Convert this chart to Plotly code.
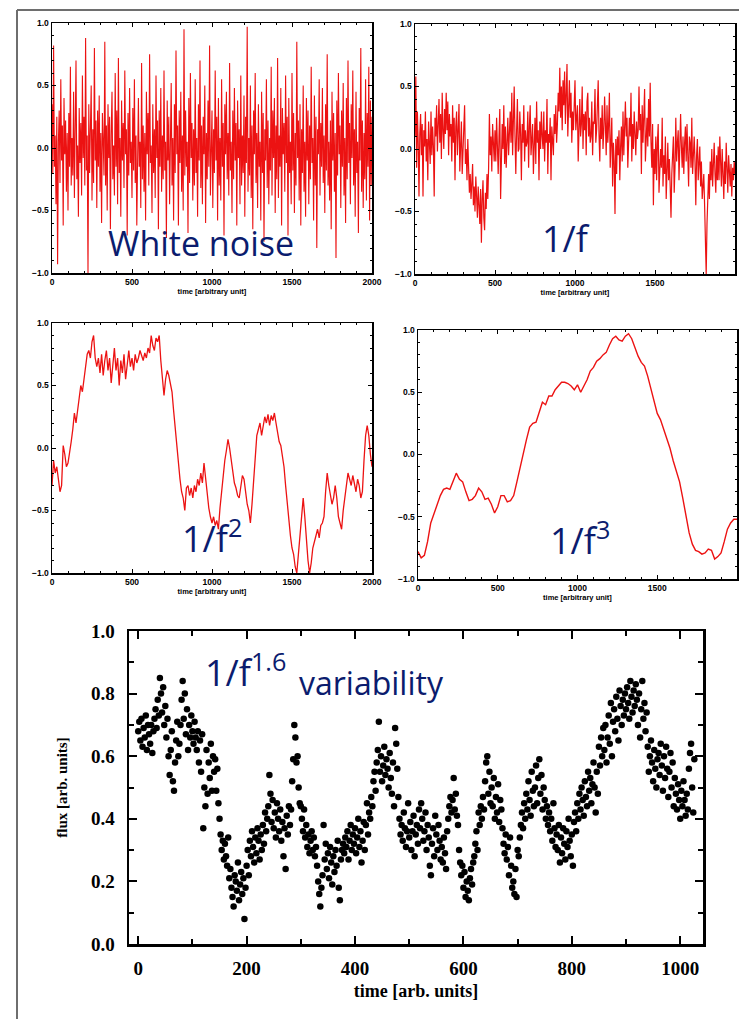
import plotly.graph_objects as go

W, H = 739, 1019

# ---------------- data ----------------
white_noise = [
    0.35,-0.20,0.82,-0.15,0.10,-0.45,0.25,-0.93,0.05,0.30,-0.28,0.55,-0.10,0.18,-0.62,0.40,-0.05,0.22,-0.35,0.12,
    -0.50,0.28,-0.15,0.65,-0.30,0.08,-0.22,0.45,-0.40,0.15,0.70,-0.25,0.02,-0.55,0.32,-0.12,0.20,-0.38,0.58,-0.08,
    0.25,-0.30,0.88,-0.18,0.10,-1.00,0.35,-0.20,0.05,0.50,-0.42,0.15,-0.28,0.80,-0.10,0.22,-0.48,0.30,-0.15,0.42,
    -0.35,0.12,-0.60,0.28,0.05,-0.22,0.85,-0.30,0.18,-0.50,0.35,-0.08,0.25,-0.65,0.10,0.45,-0.25,0.02,-0.38,0.60,
    -0.15,0.30,-0.45,0.72,-0.20,0.08,-0.55,0.38,-0.10,0.20,-0.32,0.62,-0.05,0.15,-0.70,0.28,-0.22,0.48,-0.12,0.05,
    -0.40,0.32,-0.18,0.55,-0.28,0.10,-0.62,0.22,0.40,-0.15,0.05,-0.48,0.68,-0.25,0.18,-0.35,0.12,-0.58,0.45,-0.05,
    0.28,-0.30,0.75,-0.12,0.02,-0.52,0.35,-0.20,0.15,-0.40,0.58,-0.08,0.22,-0.65,0.30,-0.15,0.48,-0.35,0.10,-0.25,
    0.62,-0.18,0.05,-0.72,0.38,-0.10,0.25,-0.45,0.15,0.52,-0.30,0.08,-0.58,0.35,-0.20,0.78,-0.05,0.18,-0.62,0.30,
    -0.12,0.45,-0.35,0.10,-0.50,0.95,-0.22,0.30,-0.15,0.05,-0.68,0.40,-0.28,0.60,-0.08,0.20,-0.42,0.15,-0.30,0.55,
    -0.20,0.08,-0.55,0.35,-0.10,0.70,-0.32,0.18,-0.45,0.25,-0.05,0.50,-0.60,0.12,-0.25,0.38,-0.15,0.82,-0.38,0.05,
    0.30,-0.48,0.15,-0.20,0.62,-0.10,0.25,-0.58,0.40,-0.30,0.08,-0.42,0.55,-0.15,0.20,-0.70,0.35,-0.05,0.45,-0.25,
    0.12,-0.38,0.68,-0.18,0.05,-0.52,0.30,-0.25,0.48,-0.10,0.20,-0.62,0.38,-0.08,0.15,-0.45,0.58,-0.30,0.10,-0.20,
    0.42,-0.55,0.25,-0.12,0.97,-0.35,0.08,-0.22,0.50,-0.40,0.18,-0.65,0.30,-0.05,0.60,-0.28,0.12,-0.48,0.35,-0.15,
    0.05,-0.58,0.45,-0.20,0.28,-0.75,0.15,-0.10,0.55,-0.32,0.22,-0.45,0.08,-0.18,0.65,-0.38,0.30,-0.08,0.40,-0.52,
    0.18,-0.25,0.72,-0.40,0.10,-0.15,0.48,-0.62,0.32,-0.05,0.20,-0.35,0.58,-0.12,0.25,-0.70,0.40,-0.20,0.05,-0.45,
    0.60,-0.18,0.28,-0.52,0.12,-0.30,0.85,-0.08,0.22,-0.42,0.35,-0.62,0.15,-0.20,0.50,-0.35,0.05,-0.55,0.40,-0.10,
    0.30,-0.45,0.18,-0.25,0.65,-0.12,0.08,-0.58,0.42,-0.30,0.25,-0.80,0.15,-0.05,0.55,-0.38,0.20,-0.15,0.48,-0.28,
    0.10,-0.52,0.35,-0.18,0.75,-0.30,0.05,-0.42,0.22,-0.65,0.45,-0.10,0.28,-0.35,0.12,-0.88,0.38,-0.22,0.60,-0.05,
    0.18,-0.48,0.30,-0.15,0.52,-0.38,0.08,-0.60,0.40,-0.25,0.70,-0.12,0.20,-0.45,0.35,-0.08,0.62,-0.30,0.15,-0.55,
    0.45,-0.20,0.05,-0.68,0.32,-0.10,0.80,-0.35,0.22,-0.48,0.12,-0.25,0.55,-0.42,0.28,-0.15,0.65,-0.58,0.38,-0.30,
    0.25,
]

pink_noise = [
    0.10,0.58,-0.15,0.30,0.05,-0.38,0.12,0.28,-0.05,0.20,-0.38,0.15,0.02,0.30,-0.10,0.08,-0.25,0.22,0.05,-0.12,
    0.30,-0.05,0.18,0.02,-0.38,0.25,0.10,0.35,-0.02,0.22,0.40,0.05,0.28,-0.08,0.45,0.15,0.00,0.32,0.12,0.45,
    0.15,0.38,-0.05,0.28,0.10,0.20,-0.10,0.35,0.05,0.25,-0.25,0.18,0.30,-0.05,0.10,0.36,-0.18,0.05,0.22,-0.20,
    0.05,0.20,0.35,-0.12,0.00,-0.25,0.08,-0.15,-0.35,-0.20,-0.40,-0.28,-0.12,-0.45,-0.30,-0.50,-0.22,-0.38,-0.55,-0.30,
    -0.45,-0.60,-0.32,-0.75,-0.40,-0.25,-0.55,-0.65,-0.35,-0.48,-0.20,-0.40,-0.15,0.28,-0.05,0.10,-0.18,0.20,0.05,-0.10,
    0.15,-0.10,0.25,0.05,-0.20,0.10,0.32,-0.40,0.05,0.20,0.00,0.35,-0.12,0.18,-0.15,0.08,0.25,-0.05,0.10,0.30,
    0.05,0.45,-0.05,0.22,0.50,0.10,-0.20,0.15,0.40,-0.02,0.00,0.30,0.12,-0.25,0.20,0.05,0.35,-0.10,0.15,0.02,
    0.05,0.30,-0.15,0.18,0.35,-0.05,0.10,0.20,-0.20,0.08,0.25,-0.12,0.38,0.05,0.15,-0.25,0.22,0.00,0.30,0.10,
    0.00,0.30,-0.10,0.15,0.05,0.40,-0.20,0.12,0.05,0.25,-0.25,0.18,0.10,-0.05,0.28,0.12,0.35,0.05,0.20,0.45,
    0.30,0.65,0.25,0.50,0.15,0.55,0.35,0.62,0.20,0.42,0.68,0.10,0.38,0.55,0.25,0.45,0.05,0.30,0.15,0.40,
    0.55,0.15,0.30,0.35,-0.10,0.25,0.40,0.10,0.20,0.50,0.00,0.28,0.15,0.30,-0.05,0.38,0.45,0.10,0.25,0.05,
    0.10,0.38,-0.05,0.22,0.20,0.48,0.05,0.15,0.30,0.55,0.12,-0.10,0.25,0.08,0.35,0.00,0.15,0.42,0.20,-0.05,
    0.35,0.05,0.20,0.45,-0.15,0.10,0.25,-0.30,0.05,-0.10,-0.52,0.08,-0.20,0.10,-0.05,0.15,-0.25,0.02,0.18,-0.10,
    0.30,-0.05,0.15,0.38,0.10,0.25,-0.15,0.05,0.25,0.10,0.45,-0.10,0.20,0.00,0.30,0.12,-0.05,0.22,0.08,0.15,
    0.50,0.15,0.28,-0.20,0.35,0.05,0.22,0.48,-0.10,0.15,0.25,0.02,0.40,0.10,0.53,0.05,-0.15,0.20,-0.45,0.00,
    -0.20,0.10,-0.25,0.05,0.20,-0.35,-0.10,0.00,-0.15,0.25,-0.30,-0.05,-0.20,0.10,-0.40,-0.12,0.05,-0.25,-0.08,-0.30,
    -0.55,-0.20,-0.05,0.10,-0.35,-0.15,0.25,-0.10,0.05,0.15,-0.25,-0.05,0.28,0.02,-0.15,0.10,-0.20,0.05,0.18,-0.10,
    0.20,-0.05,-0.30,0.10,0.05,-0.15,0.25,-0.20,0.00,0.10,-0.10,-0.45,-0.05,0.08,-0.25,-0.15,0.02,-0.30,-0.10,-0.40,
    -0.30,-0.20,-0.45,-0.65,-1.00,-0.60,-0.35,-0.20,-0.40,-0.10,-0.25,0.00,-0.30,-0.15,0.05,-0.20,-0.35,-0.05,-0.25,0.02,
    -0.25,0.10,-0.15,-0.30,0.00,-0.20,-0.40,-0.10,-0.28,0.05,-0.15,-0.35,-0.05,-0.20,-0.30,-0.12,-0.38,-0.15,-0.25,-0.10,
    -0.20,
]

brown_noise = [
    -0.30,-0.10,-0.20,-0.15,-0.25,-0.35,-0.30,0.02,-0.05,-0.15,
    -0.12,-0.05,0.05,0.15,0.28,0.20,0.32,0.40,0.50,0.45,
    0.55,0.65,0.75,0.78,0.72,0.85,0.90,0.72,0.65,0.72,
    0.60,0.75,0.58,0.70,0.78,0.62,0.72,0.52,0.68,0.80,
    0.62,0.72,0.50,0.70,0.60,0.75,0.55,0.68,0.78,0.65,
    0.72,0.62,0.75,0.68,0.72,0.78,0.74,0.70,0.76,0.72,
    0.80,0.76,0.90,0.82,0.78,0.88,0.85,0.90,0.70,0.55,
    0.42,0.55,0.62,0.58,0.52,0.45,0.30,0.15,0.05,-0.10,
    -0.25,-0.35,-0.40,-0.50,-0.32,-0.30,-0.38,-0.32,-0.40,-0.30,
    -0.35,-0.25,-0.30,-0.20,-0.28,-0.12,-0.25,-0.40,-0.48,-0.55,
    -0.60,-0.55,-0.62,-0.58,-0.65,-0.48,-0.35,-0.20,-0.10,-0.02,
    0.07,0.00,-0.10,-0.22,-0.28,-0.32,-0.38,-0.40,-0.30,-0.22,
    -0.25,-0.35,-0.45,-0.50,-0.60,-0.45,-0.25,-0.05,0.10,0.15,
    0.20,0.10,0.18,0.25,0.20,0.27,0.18,0.26,0.22,0.28,
    0.20,0.12,0.05,0.02,-0.05,-0.15,-0.30,-0.45,-0.60,-0.70,
    -0.80,-0.85,-0.95,-1.00,-0.85,-0.70,-0.55,-0.40,-0.55,-0.75,
    -0.90,-1.00,-0.92,-0.80,-0.75,-0.70,-0.65,-0.72,-0.62,-0.60,
    -0.55,-0.35,-0.20,-0.30,-0.38,-0.45,-0.40,-0.30,-0.40,-0.55,
    -0.60,-0.65,-0.50,-0.40,-0.30,-0.20,-0.25,-0.30,-0.22,-0.28,
    -0.35,-0.25,-0.30,-0.40,-0.35,-0.10,0.10,0.18,0.10,-0.05,
    -0.15,
]

black_noise = [
    -0.78,-0.83,-0.81,-0.70,-0.55,-0.48,-0.40,-0.33,-0.28,-0.27,
    -0.28,-0.22,-0.15,-0.20,-0.22,-0.30,-0.37,-0.36,-0.33,-0.27,
    -0.30,-0.36,-0.35,-0.40,-0.47,-0.42,-0.33,-0.33,-0.38,-0.37,
    -0.33,-0.22,-0.10,0.00,0.12,0.22,0.25,0.26,0.35,0.42,
    0.40,0.47,0.47,0.52,0.55,0.58,0.58,0.57,0.55,0.52,
    0.56,0.50,0.55,0.60,0.67,0.70,0.75,0.77,0.80,0.82,
    0.88,0.93,0.95,0.92,0.91,0.95,0.97,0.93,0.86,0.79,
    0.74,0.71,0.63,0.53,0.42,0.33,0.28,0.20,0.12,0.05,
    -0.05,-0.13,-0.22,-0.35,-0.50,-0.63,-0.72,-0.77,-0.78,-0.80,
    -0.79,-0.76,-0.77,-0.84,-0.82,-0.79,-0.70,-0.60,-0.55,-0.52,
    -0.52,
]

flux = [
    0.68,0.71,0.65,0.72,0.63,0.69,0.66,0.73,0.62,0.70,
    0.67,0.64,0.70,0.61,0.68,0.72,0.75,0.69,0.78,0.73,
    0.85,0.80,0.74,0.82,0.70,0.76,0.66,0.72,0.60,0.54,
    0.62,0.68,0.52,0.49,0.58,0.65,0.71,0.60,0.64,0.70,
    0.78,0.84,0.72,0.80,0.67,0.75,0.62,0.70,0.66,0.73,
    0.68,0.64,0.71,0.66,0.62,0.68,0.58,0.65,0.55,0.67,
    0.37,0.50,0.44,0.62,0.48,0.58,0.53,0.64,0.49,0.60,
    0.55,0.59,0.49,0.56,0.45,0.40,0.35,0.30,0.33,0.27,
    0.32,0.28,0.25,0.34,0.21,0.24,0.18,0.15,0.12,0.22,
    0.20,0.17,0.26,0.14,0.19,0.23,0.16,0.21,0.08,0.18,
    0.25,0.30,0.22,0.33,0.28,0.36,0.31,0.26,0.34,0.29,
    0.37,0.33,0.27,0.35,0.30,0.38,0.32,0.42,0.36,0.40,
    0.44,0.54,0.48,0.39,0.46,0.37,0.42,0.34,0.45,0.40,
    0.36,0.43,0.33,0.39,0.28,0.37,0.24,0.41,0.35,0.44,
    0.38,0.43,0.52,0.59,0.70,0.66,0.58,0.60,0.50,0.45,
    0.44,0.40,0.36,0.43,0.34,0.38,0.31,0.35,0.29,0.33,
    0.36,0.30,0.34,0.28,0.31,0.25,0.20,0.16,0.12,0.18,
    0.22,0.38,0.27,0.32,0.24,0.29,0.21,0.31,0.26,0.19,
    0.28,0.23,0.30,0.25,0.33,0.18,0.14,0.27,0.30,0.32,
    0.29,0.34,0.31,0.36,0.27,0.33,0.38,0.30,0.35,0.32,
    0.37,0.29,0.34,0.40,0.31,0.36,0.26,0.33,0.39,0.30,
    0.38,0.45,0.35,0.42,0.40,0.47,0.44,0.52,0.55,0.49,
    0.58,0.62,0.71,0.55,0.60,0.52,0.57,0.63,0.54,0.59,
    0.56,0.50,0.61,0.53,0.48,0.58,0.44,0.69,0.64,0.56,
    0.47,0.40,0.35,0.38,0.33,0.42,0.37,0.31,0.36,0.45,
    0.34,0.39,0.30,0.36,0.41,0.28,0.35,0.38,0.32,0.43,
    0.37,0.45,0.40,0.33,0.36,0.42,0.30,0.38,0.34,0.25,
    0.22,0.32,0.37,0.28,0.41,0.35,0.30,0.38,0.33,0.27,
    0.31,0.26,0.34,0.29,0.24,0.36,0.40,0.44,0.47,0.42,
    0.46,0.53,0.43,0.48,0.41,0.38,0.30,0.26,0.22,0.25,
    0.18,0.23,0.15,0.20,0.17,0.14,0.21,0.24,0.19,0.26,
    0.28,0.32,0.36,0.30,0.42,0.38,0.44,0.40,0.47,0.43,
    0.52,0.58,0.60,0.48,0.55,0.45,0.50,0.44,0.53,0.40,
    0.47,0.42,0.51,0.39,0.46,0.43,0.37,0.32,0.29,0.35,
    0.27,0.31,0.22,0.34,0.25,0.18,0.20,0.16,0.24,0.15,
    0.30,0.28,0.34,0.38,0.42,0.37,0.45,0.40,0.48,0.43,
    0.52,0.46,0.41,0.55,0.49,0.44,0.50,0.57,0.45,0.53,
    0.59,0.48,0.54,0.43,0.50,0.46,0.40,0.44,0.38,0.42,
    0.36,0.40,0.33,0.45,0.37,0.31,0.35,0.30,0.38,0.26,
    0.34,0.29,0.37,0.32,0.27,0.36,0.31,0.40,0.33,0.28,
    0.35,0.25,0.39,0.42,0.36,0.45,0.40,0.48,0.43,0.50,
    0.46,0.41,0.52,0.47,0.44,0.55,0.49,0.53,0.45,0.51,
    0.58,0.50,0.42,0.55,0.48,0.63,0.57,0.66,0.60,0.69,
    0.62,0.70,0.58,0.66,0.73,0.64,0.77,0.60,0.71,0.75,
    0.68,0.79,0.72,0.65,0.81,0.76,0.70,0.78,0.73,0.80,
    0.75,0.82,0.77,0.72,0.84,0.79,0.74,0.81,0.76,0.83,
    0.78,0.70,0.80,0.66,0.75,0.84,0.72,0.77,0.68,0.74,
    0.63,0.55,0.60,0.65,0.58,0.52,0.62,0.56,0.50,0.59,
    0.61,0.54,0.64,0.57,0.49,0.60,0.53,0.63,0.56,0.47,
    0.55,0.61,0.50,0.58,0.44,0.53,0.48,0.43,0.51,0.46,
    0.40,0.49,0.44,0.52,0.46,0.41,0.48,0.43,0.56,0.61,
    0.64,0.50,0.42,0.59,
]
flux_step = 2  # time units between samples

small_xticks = [0, 500, 1000, 1500, 2000]
small_yticks = [-1.0, -0.5, 0.0, 0.5, 1.0]
big_xticks = [0, 200, 400, 600, 800, 1000]
big_yticks = [0.0, 0.2, 0.4, 0.6, 0.8, 1.0]


def grid(vals, span=2000.0):
    n = len(vals)
    return [span * i / (n - 1) for i in range(n)]


flux_t = [flux_step * i for i in range(len(flux))]

# ---------------- helpers ----------------
def dx(x0, x1):
    return [x0 / W, x1 / W]


def dy(y0, y1):  # y0 top px, y1 bottom px
    return [1 - y1 / H, 1 - y0 / H]


RED = "#ec1212"
NAVY = "#0b1c6e"
SANS = "Liberation Sans"
SERIF = "Liberation Serif"

fig = go.Figure()
panels = [
    (white_noise, dx(52, 372), dy(23, 273), 1.1),
    (pink_noise, dx(415, 735), dy(24, 274), 1.2),
    (brown_noise, dx(52, 372), dy(323, 573), 1.3),
    (black_noise, dx(418, 737), dy(330, 579), 1.4),
]

layout = {}
for i, (vals, xd, yd, lw) in enumerate(panels, start=1):
    sfx = "" if i == 1 else str(i)
    fig.add_trace(go.Scatter(x=grid(vals), y=vals, mode="lines",
                             line=dict(color=RED, width=lw),
                             xaxis="x" + sfx, yaxis="y" + sfx, showlegend=False))
    tf = dict(family=SANS, size=8.5, color="black", weight="bold")
    layout["xaxis" + sfx] = dict(
        domain=xd, anchor="y" + sfx, range=[0, 2000], tickvals=small_xticks,
        ticks="inside", ticklen=4, tickwidth=1, tickcolor="black",
        minor=dict(dtick=100, tick0=0, ticks="inside", ticklen=2, tickwidth=1, tickcolor="black"),
        showline=True, linecolor="black", linewidth=1.5, mirror="allticks",
        showgrid=False, zeroline=False, tickfont=tf, automargin=False,
        title=dict(text="time [arbitrary unit]", font=dict(family=SANS, size=7.5, color="black", weight="bold"), standoff=3),
    )
    layout["yaxis" + sfx] = dict(
        domain=yd, anchor="x" + sfx, range=[-1, 1], tickvals=small_yticks, tickformat=".1f",
        ticks="inside", ticklen=4, tickwidth=1, tickcolor="black",
        minor=dict(dtick=0.1, tick0=0, ticks="inside", ticklen=2, tickwidth=1, tickcolor="black"),
        showline=True, linecolor="black", linewidth=1.5, mirror="allticks",
        showgrid=False, zeroline=False, tickfont=tf, automargin=False,
    )

# bottom panel
fig.add_trace(go.Scatter(x=flux_t, y=flux, mode="markers",
                         marker=dict(color="black", size=6.5, line=dict(width=0)),
                         xaxis="x5", yaxis="y5", showlegend=False))
bf = dict(family=SERIF, size=19, color="black", weight="bold")
layout["xaxis5"] = dict(
    domain=dx(129, 703), anchor="y5", range=[-17, 1042], tickvals=big_xticks,
    ticks="inside", ticklen=8, tickwidth=2, tickcolor="black",
    minor=dict(dtick=100, tick0=0, ticks="inside", ticklen=5, tickwidth=2, tickcolor="black"),
    showline=True, linecolor="black", linewidth=2.5, mirror="allticks",
    showgrid=False, zeroline=False, tickfont=bf, ticklabelstandoff=6, automargin=False,
    title=dict(text="time [arb. units]", font=dict(family=SERIF, size=18, color="black", weight="bold"), standoff=6),
)
layout["yaxis5"] = dict(
    domain=dy(631, 944), anchor="x5", range=[0, 1], tickvals=big_yticks, tickformat=".1f",
    ticks="inside", ticklen=8, tickwidth=2, tickcolor="black",
    minor=dict(dtick=0.1, tick0=0, ticks="inside", ticklen=5, tickwidth=2, tickcolor="black"),
    showline=True, linecolor="black", linewidth=2.5, mirror="allticks",
    showgrid=False, zeroline=False, tickfont=bf, ticklabelstandoff=8, automargin=False,
    title=dict(text="flux [arb. units]", font=dict(family=SERIF, size=15, color="black", weight="bold"), standoff=20),
)

LBL = "Open Sans"
ann = []


def label(text, x, y, size):
    ann.append(dict(text=text, x=x / W, y=1 - y / H, xref="paper", yref="paper",
                    xanchor="left", yanchor="middle", showarrow=False,
                    font=dict(family=LBL, size=size, color=NAVY)))


label("White noise", 106, 243, 34)
label("1/f", 540, 238, 36)
label("1/f<sup>2</sup>", 180, 536, 36)
label("1/f<sup>3</sup>", 548, 538, 36)
label("1/f<sup>1.6</sup>", 203, 670, 36)
label("variability", 297, 682, 32)

shapes = [
    dict(type="line", xref="paper", yref="paper", x0=17 / W, x1=1, y0=1 - 10 / H, y1=1 - 10 / H,
         line=dict(color="#6e6e6e", width=2)),
    dict(type="line", xref="paper", yref="paper", x0=17 / W, x1=17 / W, y0=0, y1=1 - 10 / H,
         line=dict(color="#6e6e6e", width=2)),
]

fig.update_layout(width=W, height=H, margin=dict(l=0, r=0, t=0, b=0, autoexpand=False),
                  paper_bgcolor="white", plot_bgcolor="white", hovermode=False,
                  annotations=ann, shapes=shapes, **layout)
fig.write_html("out.html", config={"displayModeBar": False, "staticPlot": True},
               post_script="document.body.style.margin='0px';document.body.style.overflow='hidden';")
